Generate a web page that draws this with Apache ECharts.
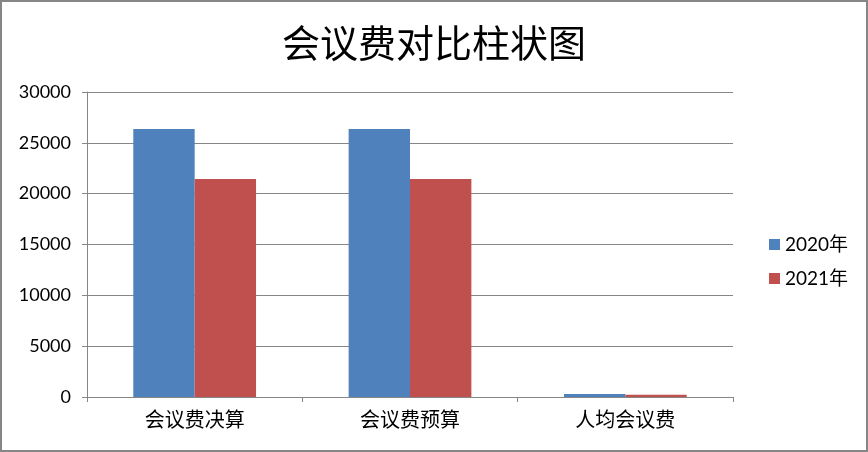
<!DOCTYPE html>
<html><head><meta charset="utf-8">
<script src="https://cdn.jsdelivr.net/npm/echarts@6/dist/echarts.min.js"></script>
<style>html,body{margin:0;padding:0;background:#fff}
#c{width:868px;height:452px;box-sizing:border-box;border:2px solid #868686;}</style>
</head><body><div id="c"></div>
<script>
const categories = ['会议费决算', '会议费预算', '人均会议费'];
const seriesNames = ['2020年', '2021年'];
const values2020 = [26350, 26350, 300];
const values2021 = [21450, 21450, 220];
const yTicks = {min: 0, max: 30000, interval: 5000};

const chart = echarts.init(document.getElementById('c'), null, {renderer: 'canvas'});
const font = 'Lato, "Noto Sans CJK SC", sans-serif';
chart.setOption({
  animation: false,
  textStyle: {fontFamily: font},
  title: {text: '会议费对比柱状图', left: 'center', top: 17,
    textStyle: {fontFamily: '"Noto Sans CJK SC"', fontSize: 38, fontWeight: 'normal', color: '#000'}},
  legend: {orient: 'vertical', left: 762, top: 228, itemWidth: 11, itemHeight: 11, itemGap: 15,
    icon: 'rect', textStyle: {fontSize: 19, color: '#000', fontFamily: font},
    data: seriesNames},
  grid: {left: 85, right: 133, top: 90, bottom: 53, containLabel: false},
  xAxis: {type: 'category', data: categories,
    axisLine: {lineStyle: {color: '#868686', width: 1}},
    axisTick: {show: true, length: 5, lineStyle: {color: '#868686'}},
    axisLabel: {fontSize: 20, color: '#000', margin: 12, fontFamily: '"Noto Sans CJK SC"'}},
  yAxis: {type: 'value', min: yTicks.min, max: yTicks.max, interval: yTicks.interval,
    axisLine: {show: true, lineStyle: {color: '#868686'}},
    axisTick: {show: true, length: 5, lineStyle: {color: '#868686'}},
    splitLine: {lineStyle: {color: '#868686'}},
    axisLabel: {fontSize: 18, color: '#000', margin: 16, formatter: v => String(v)}},
  series: [
    {name: seriesNames[0], type: 'bar', data: values2020, barGap: '0%', barCategoryGap: '43%',
      itemStyle: {color: '#4F81BD'}},
    {name: seriesNames[1], type: 'bar', data: values2021, barGap: '0%', barCategoryGap: '43%',
      itemStyle: {color: '#C0504D'}}
  ]
});
</script></body></html>
